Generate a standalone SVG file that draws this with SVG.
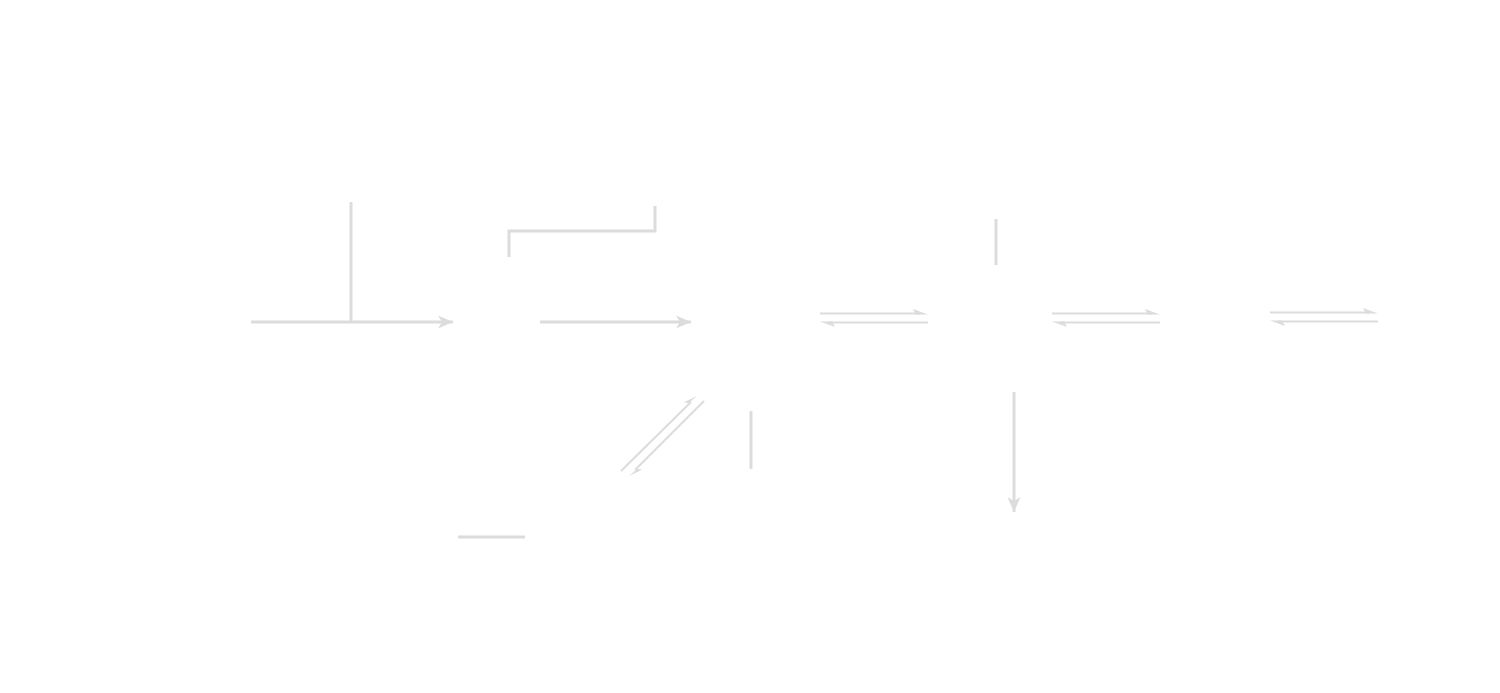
<svg xmlns="http://www.w3.org/2000/svg" width="1500" height="693" viewBox="0 0 1500 693">
<style>
.l{stroke:#dcdcdc;stroke-width:3;fill:none}
.t{stroke:#dcdcdc;stroke-width:2;fill:none}
.h{fill:#dcdcdc;stroke:none}
</style>
<defs>
<marker id="ah" markerUnits="userSpaceOnUse" markerWidth="17" markerHeight="15" refX="15" refY="7.5" orient="auto">
<path d="M0,1 L15,7.5 L0,14 L4,7.5 Z" fill="#dcdcdc"/>
</marker>
</defs>
<rect width="1500" height="693" fill="#ffffff"/>
<g id="connectors">
<path class="l" d="M251,322 H453" marker-end="url(#ah)"/>
<path class="l" d="M351,202 V322"/>
<path class="l" d="M509,257 V231 H655 V206"/>
<path class="l" d="M540,322 H691" marker-end="url(#ah)"/>
<path class="l" d="M996,219 V265"/>
<path class="l" d="M751,411 V469"/>
<path class="l" d="M1014,392 V512" marker-end="url(#ah)"/>
<path class="l" d="M458,537 H525"/>
<!-- equilibrium 1 -->
<path class="t" d="M820,313.5 H920"/>
<path class="h" d="M928,314.5 L913,309 L916,314.5 Z"/>
<path class="t" d="M828,322.5 H928"/>
<path class="h" d="M820,321.5 L835,327 L832,321.5 Z"/>
<!-- equilibrium 2 -->
<path class="t" d="M1052,313.5 H1152"/>
<path class="h" d="M1160,314.5 L1145,309 L1148,314.5 Z"/>
<path class="t" d="M1060,322.5 H1160"/>
<path class="h" d="M1052,321.5 L1067,327 L1064,321.5 Z"/>
<!-- equilibrium 3 -->
<path class="t" d="M1270,312.5 H1370"/>
<path class="h" d="M1378,313.5 L1363,308 L1366,313.5 Z"/>
<path class="t" d="M1278,321.5 H1378"/>
<path class="h" d="M1270,320.5 L1285,326 L1282,320.5 Z"/>
<!-- diagonal equilibrium -->
<path class="t" d="M621,471 L691,402"/>
<path class="h" d="M697,396 L683.5,402.6 L689,403 Z"/>
<path class="t" d="M704,401 L635,470"/>
<path class="h" d="M629,476 L642.4,469.4 L637,469 Z"/>
</g>
</svg>
